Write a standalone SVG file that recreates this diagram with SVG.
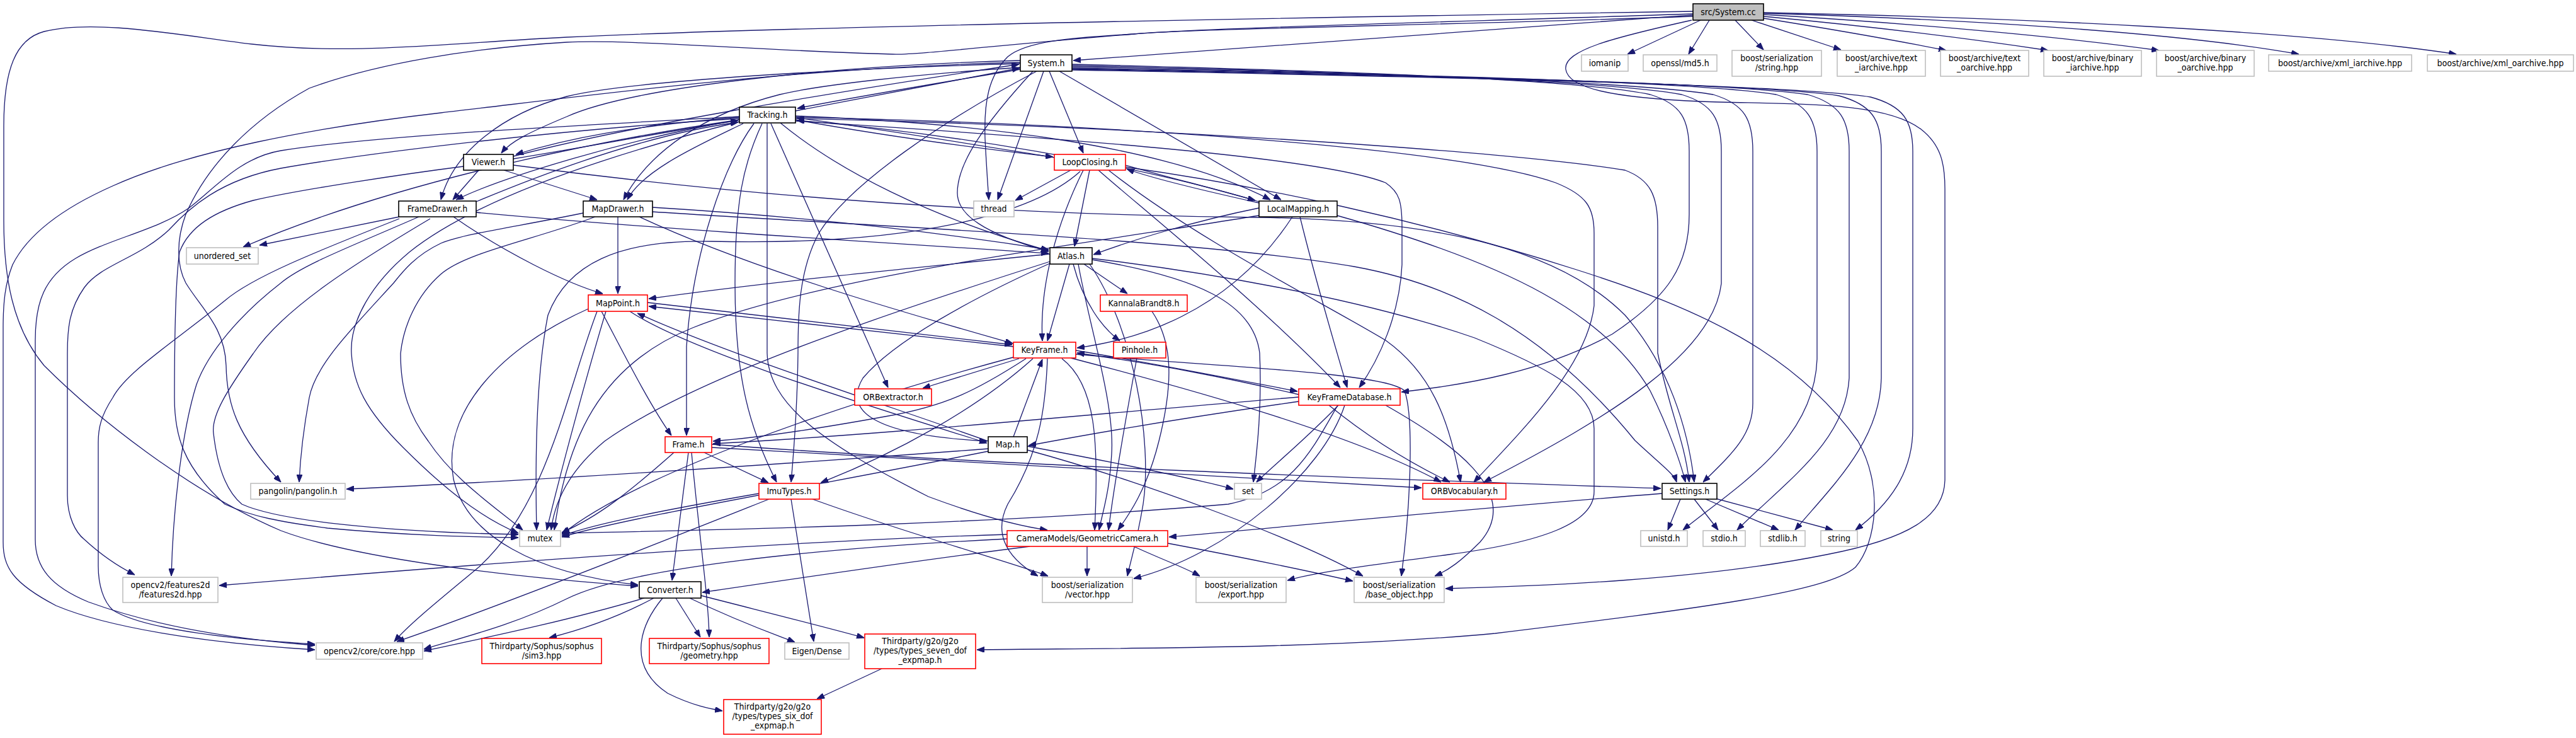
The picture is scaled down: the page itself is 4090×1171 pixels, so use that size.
<svg xmlns="http://www.w3.org/2000/svg" width="4090" height="1171" viewBox="0 0 4090 1171">
<defs>
<style>
.e{fill:none;stroke:#191970;stroke-width:1.3;marker-end:url(#ah)}
.nb rect{fill:#fff;stroke:#000;stroke-width:1.6}
.nr rect{fill:#fff;stroke:#ff0000;stroke-width:1.6}
.ng rect{fill:#fff;stroke:#bfbfbf;stroke-width:1.6}
.ns rect{fill:#bfbfbf;stroke:#000;stroke-width:1.6}
text{font-family:"DejaVu Sans Condensed","Liberation Sans",sans-serif;font-size:14px;text-anchor:middle;fill:#000}
</style>
<marker id="ah" viewBox="0 0 12 9" refX="12" refY="4.5" markerWidth="12" markerHeight="9" markerUnits="userSpaceOnUse" orient="auto"><path d="M0,0 L12,4.5 L0,9 z" fill="#191970" stroke="#191970" stroke-width="1"/></marker>
</defs>
<rect width="4090" height="1171" fill="#fff"/>
<g id="connectors">
<!-- System.cc -->
<path class="e" d="M2688,24 C2300,50 1900,80 1704,96"/>
<path class="e" d="M2688,18 C2300,24 1300,40 900,59 C700,69 560,88 400,70 C280,55 150,30 70,50 C25,62 6,110 6,200 L6,350 C6,440 20,520 70,580 C150,660 300,780 446,842 C560,885 800,915 1013,930"/>
<path class="e" d="M2688,22 C2300,35 1900,45 1800,54 C1600,70 1450,88 1417,86 C1200,80 1000,62 900,67 C750,76 600,100 491,140 C400,190 330,260 295,340 C280,380 280,420 295,449 C320,490 357,519 359,580 C360,640 375,690 446,765"/>
<path class="e" d="M2688,26 C2300,40 1900,45 1800,54 C1700,60 1630,65 1600,90 C1570,120 1562,160 1564,220 C1566,260 1568,290 1570,317"/>
<path class="e" d="M2700,32 L2584,86"/>
<path class="e" d="M2714,32 L2681,86"/>
<path class="e" d="M2755,32 L2800,79"/>
<path class="e" d="M2781,32 L2923,79"/>
<path class="e" d="M2800,29 C2900,45 3000,62 3090,80"/>
<path class="e" d="M2800,26 C2950,40 3120,60 3252,80"/>
<path class="e" d="M2800,23 C3000,35 3250,55 3428,80"/>
<path class="e" d="M2800,21 C3100,30 3450,50 3650,86"/>
<path class="e" d="M2800,20 C3200,28 3650,48 3900,86"/>
<path class="e" d="M2686,32 C2560,60 2482,80 2486,110 C2490,140 2560,155 2700,161 C2850,166 2990,160 3050,205 C3082,230 3088,260 3088,300 L3088,760 C3088,820 3030,855 2900,880 C2700,920 2450,930 2295,934"/>
<!-- System.h -->
<path class="e" d="M1620,110 C1500,130 1350,155 1266,172"/>
<path class="e" d="M1620,96 C1300,105 1000,140 900,185 C840,210 810,225 796,243"/>
<path class="e" d="M1620,101 C1350,108 1000,128 900,153 C800,180 720,240 700,317"/>
<path class="e" d="M1620,107 C1450,118 1300,135 1238,150 C1120,180 1030,240 990,317"/>
<path class="e" d="M1657,113 L1584,317"/>
<path class="e" d="M1666,113 L1720,243"/>
<path class="e" d="M1682,113 L2034,317"/>
<path class="e" d="M1640,113 C1560,200 1520,260 1520,306 C1520,340 1560,370 1665,399"/>
<path class="e" d="M1646,113 C1500,190 1350,290 1300,370 C1268,430 1267,500 1267,560 C1266,650 1260,720 1256,765"/>
<path class="e" d="M1620,99 C1250,108 950,150 700,179 C500,202 300,240 179,295 C100,330 45,370 20,420 C8,450 5,480 5,520 L5,860 C5,900 20,925 89,961 C170,995 320,1020 500,1031"/>
<path class="e" d="M1702,102 C2100,112 2500,125 2620,150 C2670,165 2682,190 2682,240 L2682,340 C2682,420 2650,470 2560,530 C2450,590 2330,610 2225,622"/>
<path class="e" d="M1702,104 C2150,114 2550,128 2670,150 C2720,165 2733,190 2733,240 L2733,450 C2720,560 2560,660 2356,765"/>
<path class="e" d="M1702,106 C2200,116 2600,130 2720,150 C2770,165 2783,190 2783,240 L2783,640 C2783,690 2750,720 2704,765"/>
<path class="e" d="M1702,108 C2250,118 2700,130 2820,150 C2870,165 2885,190 2885,240 L2885,570 C2880,700 2760,770 2672,841"/>
<path class="e" d="M1702,109 C2300,120 2750,132 2870,150 C2922,165 2936,190 2936,240 L2936,600 C2930,700 2840,760 2758,841"/>
<path class="e" d="M1702,110 C2350,122 2800,134 2920,152 C2972,166 2987,190 2987,240 L2987,600 C2985,700 2910,770 2850,841"/>
<path class="e" d="M1702,111 C2400,124 2850,136 2970,154 C3022,168 3037,192 3037,240 L3037,680 C3037,750 3000,800 2946,841"/>
<!-- Tracking.h -->
<path class="e" d="M1174,186 C1000,200 900,220 819,245"/>
<path class="e" d="M1174,190 C1000,220 800,280 724,317"/>
<path class="e" d="M1180,196 C1110,230 1020,270 996,317"/>
<path class="e" d="M1263,176 L1619,108"/>
<path class="e" d="M1263,190 C1400,215 1550,235 1672,249"/>
<path class="e" d="M1263,184 C1550,195 1850,230 2017,317"/>
<path class="e" d="M1239,195 C1330,270 1474,344 1665,398"/>
<path class="e" d="M1197,196 C1150,260 1100,400 1090,550 L1090,691"/>
<path class="e" d="M1210,196 C1180,260 1167,320 1167,450 C1167,600 1190,680 1233,765"/>
<path class="e" d="M1218,196 L1218,560 C1220,640 1300,700 1474,788 C1560,820 1620,835 1663,841"/>
<path class="e" d="M1224,196 L1410,615"/>
<path class="e" d="M1263,192 C1700,220 2100,250 2200,290 C2222,305 2226,320 2226,360 L2226,420 C2222,500 2190,570 2158,615"/>
<path class="e" d="M1263,186 C1700,195 2300,230 2470,290 C2520,310 2531,330 2531,370 L2531,485 C2520,580 2420,680 2340,765"/>
<path class="e" d="M1263,188 C1800,200 2400,240 2580,270 C2620,285 2632,310 2632,360 L2632,560 C2650,650 2675,700 2682,765"/>
<path class="e" d="M1174,185 C900,200 600,215 446,239 C380,250 340,300 300,330 C250,365 170,380 120,410 C70,440 56,480 56,540 L56,856 C56,900 80,930 140,955 C250,995 380,1015 500,1024"/>
<path class="e" d="M1174,188 C900,205 600,240 446,267 C350,285 300,330 268,365 C220,410 160,420 134,456 C110,490 107,520 107,561 L107,786 C107,820 120,845 134,856 C160,880 190,900 214,912"/>
<path class="e" d="M1174,190 C900,230 600,300 386,392"/>
<path class="e" d="M1174,193 C950,250 750,320 650,400 C590,450 555,510 558,561 C561,610 580,650 640,710 C700,770 760,820 823,846"/>
<!-- Viewer.h -->
<path class="e" d="M760,270 L719,317"/>
<path class="e" d="M800,270 L948,317"/>
<path class="e" d="M815,252 C950,230 1080,205 1172,191"/>
<path class="e" d="M815,248 C1000,200 1300,150 1618,102"/>
<path class="e" d="M815,262 C1100,300 1500,340 2000,345 C2300,350 2480,400 2580,500 C2650,580 2680,680 2690,765"/>
<path class="e" d="M736,264 C650,275 480,300 402,318 C340,335 300,360 285,400 C278,450 277,550 277,631 C277,690 290,740 357,800 C400,820 446,828 520,838 C650,850 750,852 823,853"/>
<!-- FrameDrawer.h -->
<path class="e" d="M756,320 C900,260 1050,210 1172,194"/>
<path class="e" d="M720,344 C800,400 900,450 957,466"/>
<path class="e" d="M756,337 C1000,360 1400,385 1665,402"/>
<path class="e" d="M634,347 C500,400 400,440 357,477 C280,540 200,590 179,631 C160,660 156,680 156,702 L156,898 C156,930 165,955 179,968 C230,1000 380,1015 500,1022"/>
<path class="e" d="M665,344 C560,390 480,420 446,449 C380,500 330,560 312,610 C290,680 275,800 272,914"/>
<path class="e" d="M683,347 C560,420 450,490 402,561 C360,620 335,660 339,688 C345,740 360,780 384,800 C450,830 650,845 823,848"/>
<path class="e" d="M634,344 L412,389"/>
<!-- MapDrawer.h -->
<path class="e" d="M1036,329 C1300,345 1500,370 1665,396"/>
<path class="e" d="M981,344 L981,466"/>
<path class="e" d="M1015,344 C1200,430 1450,500 1608,545"/>
<path class="e" d="M1036,336 C1400,360 1900,380 2150,423 C2300,450 2450,520 2596,699 C2640,740 2658,752 2662,765"/>
<path class="e" d="M926,338 C820,360 740,370 700,386 C660,405 640,430 625,449 C560,520 500,580 491,631 C482,680 477,720 475,765"/>
<path class="e" d="M945,344 C850,380 740,400 700,435 C660,470 640,520 636,561 C636,620 650,660 680,700 C720,760 780,800 830,841"/>
<!-- LocalMapping.h -->
<path class="e" d="M1999,322 C1900,300 1820,280 1789,268"/>
<path class="e" d="M1999,320 C1800,260 1500,210 1265,191"/>
<path class="e" d="M1999,330 C1900,350 1800,380 1736,404"/>
<path class="e" d="M2052,344 C1950,500 1800,540 1710,552"/>
<path class="e" d="M2064,344 C2090,450 2120,550 2139,615"/>
<path class="e" d="M2123,342 C2400,420 2550,500 2620,620 C2650,680 2670,740 2676,765"/>
<path class="e" d="M1999,342 C1700,390 1300,440 1100,520 C950,580 900,700 880,841"/>
<!-- LoopClosing.h -->
<path class="e" d="M1787,262 C1850,280 1930,300 1993,318"/>
<path class="e" d="M1674,250 C1550,230 1400,205 1265,187"/>
<path class="e" d="M1700,270 L1612,318"/>
<path class="e" d="M1730,270 L1706,391"/>
<path class="e" d="M1720,270 C1680,350 1650,450 1655,541"/>
<path class="e" d="M1744,270 C1800,320 2000,480 2128,615"/>
<path class="e" d="M1760,270 C1900,380 2100,480 2200,540 C2270,590 2300,660 2319,765"/>
<path class="e" d="M1715,272 C1640,340 1450,390 1130,383 C980,380 900,420 870,500 C850,600 850,750 852,841"/>
<path class="e" d="M1787,265 C2000,295 2250,347 2500,427 C2700,490 2850,560 2950,700 C2990,770 2980,860 2946,900 C2900,940 2700,965 2374,1005 C2100,1030 1800,1028 1551,1031"/>
<!-- Atlas.h -->
<path class="e" d="M1669,417 C1550,470 1420,540 1370,600 C1340,650 1380,690 1567,700"/>
<path class="e" d="M1667,403 C1400,430 1200,450 1030,474"/>
<path class="e" d="M1698,419 L1663,541"/>
<path class="e" d="M1712,419 C1730,520 1770,640 1765,720 C1762,780 1750,815 1745,841"/>
<path class="e" d="M1704,419 C1720,480 1750,520 1778,541"/>
<path class="e" d="M1721,419 L1790,466"/>
<path class="e" d="M1734,412 C1900,440 1990,480 2000,560 C2004,650 1995,720 1990,765"/>
<path class="e" d="M1667,415 C1400,500 1100,600 960,700 C900,750 880,800 875,841"/>
<path class="e" d="M1730,419 C1800,520 1830,700 1815,800 C1805,860 1795,890 1790,914"/>
<path class="e" d="M1734,410 C1900,430 2150,470 2341,536 C2450,580 2531,620 2531,680 L2531,780 C2531,830 2450,860 2300,880 C2150,900 2080,910 2044,921"/>
<!-- KeyFrame.h -->
<path class="e" d="M1609,550 L1030,486"/>
<path class="e" d="M1618,569 L1465,616"/>
<path class="e" d="M1629,569 C1550,620 1500,645 1405,661 C1300,680 1200,695 1132,700"/>
<path class="e" d="M1640,569 C1550,650 1420,720 1303,766"/>
<path class="e" d="M1686,569 C1740,610 1745,700 1738,841"/>
<path class="e" d="M1700,568 C1900,620 2150,690 2288,765"/>
<path class="e" d="M1708,556 C1850,580 1950,600 2060,621"/>
<path class="e" d="M1708,562 C1900,580 2200,590 2230,620 C2245,660 2240,800 2225,914"/>
<path class="e" d="M1663,569 C1660,650 1650,720 1600,800 C1580,840 1590,880 1648,914"/>
<path class="e" d="M1612,566 C1300,650 1000,760 892,848"/>
<!-- MapPoint.h -->
<path class="e" d="M1028,480 L1607,547"/>
<path class="e" d="M955,494 C990,560 1030,640 1066,691"/>
<path class="e" d="M1000,494 C1100,560 1400,650 1567,703"/>
<path class="e" d="M934,490 C800,550 700,650 720,760 C740,850 850,910 1013,928"/>
<path class="e" d="M948,494 C900,620 870,800 760,900 C700,950 650,990 626,1018"/>
<path class="e" d="M962,494 C930,600 890,750 868,841"/>
<!-- Map.h -->
<path class="e" d="M1569,700 C1400,640 1150,560 1012,497"/>
<path class="e" d="M1609,693 L1655,570"/>
<path class="e" d="M1631,708 C1750,730 1900,760 1958,776"/>
<path class="e" d="M1569,712 C1200,740 800,765 550,776"/>
<path class="e" d="M1569,716 C1300,770 1000,820 892,852"/>
<path class="e" d="M1631,714 C1800,760 2050,850 2164,914"/>
<!-- KeyFrameDatabase.h -->
<path class="e" d="M2062,626 C1950,600 1850,580 1710,560"/>
<path class="e" d="M2062,630 C1700,660 1400,690 1132,704"/>
<path class="e" d="M2062,637 C1900,660 1750,685 1633,707"/>
<path class="e" d="M2110,643 C2180,700 2250,740 2302,765"/>
<path class="e" d="M2125,643 C2070,700 2020,740 1995,765"/>
<path class="e" d="M2124,643 C2080,720 2050,780 1950,800 C1600,830 1200,840 892,846"/>
<path class="e" d="M2135,643 C2100,750 1950,880 1800,918"/>
<path class="e" d="M2200,643 C2300,700 2420,780 2350,860 C2320,890 2300,905 2278,914"/>
<!-- Frame.h -->
<path class="e" d="M1118,718 L1220,766"/>
<path class="e" d="M1093,718 L1067,921"/>
<path class="e" d="M1098,718 C1110,850 1125,950 1126,1011"/>
<path class="e" d="M1130,705 C1600,740 2200,760 2637,775"/>
<path class="e" d="M1130,710 C1600,740 2000,760 2257,774"/>
<path class="e" d="M1070,718 C1000,780 950,820 892,845"/>
<!-- ImuTypes.h -->
<path class="e" d="M1205,783 C1050,810 950,830 892,850"/>
<path class="e" d="M1221,792 C1100,840 800,960 630,1018"/>
<path class="e" d="M1256,792 L1292,1018"/>
<path class="e" d="M1290,792 C1450,850 1600,890 1664,914"/>
<!-- GeometricCamera.h -->
<path class="e" d="M1599,855 C1300,870 1000,900 900,950 C820,990 740,1010 673,1030"/>
<path class="e" d="M1599,848 C1200,860 700,900 348,929"/>
<path class="e" d="M1635,867 C1450,890 1250,920 1115,940"/>
<path class="e" d="M1726,867 L1726,914"/>
<path class="e" d="M1800,867 C1850,890 1880,900 1905,914"/>
<path class="e" d="M1854,862 C1950,880 2050,900 2148,922"/>
<!-- KannalaBrandt8.h / Pinhole.h -->
<path class="e" d="M1829,494 C1860,540 1865,600 1840,700 C1820,780 1790,820 1775,841"/>
<path class="e" d="M1805,568 C1790,650 1770,760 1760,841"/>
<!-- Settings.h -->
<path class="e" d="M2639,783 C2300,810 2000,840 1856,852"/>
<path class="e" d="M2668,792 L2648,841"/>
<path class="e" d="M2690,792 L2728,841"/>
<path class="e" d="M2708,792 L2824,841"/>
<path class="e" d="M2720,790 L2910,841"/>
<!-- Converter.h -->
<path class="e" d="M1023,949 C900,985 780,1010 673,1033"/>
<path class="e" d="M1038,949 C980,980 920,1000 872,1012"/>
<path class="e" d="M1073,949 L1112,1011"/>
<path class="e" d="M1095,949 C1180,990 1240,1010 1262,1019"/>
<path class="e" d="M1113,945 C1250,980 1330,1000 1372,1012"/>
<path class="e" d="M1052,949 C1010,1000 1000,1060 1060,1100 C1100,1120 1130,1125 1147,1128"/>
<path class="e" d="M1400,1061 L1297,1109"/>
</g>
<g id="n_SystemCC" class="ns"><rect x="2688" y="6" width="112" height="26"/><text x="2744" y="24">src/System.cc</text></g>
<g id="n_SystemH" class="nb"><rect x="1620" y="87" width="82" height="26"/><text x="1661" y="105">System.h</text></g>
<g id="n_iomanip" class="ng"><rect x="2511" y="87" width="74" height="26"/><text x="2548" y="105">iomanip</text></g>
<g id="n_md5" class="ng"><rect x="2609" y="87" width="117" height="26"/><text x="2667.5" y="105">openssl/md5.h</text></g>
<g id="n_bstring" class="ng"><rect x="2750" y="80" width="142" height="41"/><text x="2821" y="97">boost/serialization</text><text x="2821" y="112">/string.hpp</text></g>
<g id="n_tia" class="ng"><rect x="2917" y="80" width="140" height="41"/><text x="2987" y="97">boost/archive/text</text><text x="2987" y="112">_iarchive.hpp</text></g>
<g id="n_toa" class="ng"><rect x="3081" y="80" width="140" height="41"/><text x="3151" y="97">boost/archive/text</text><text x="3151" y="112">_oarchive.hpp</text></g>
<g id="n_bia" class="ng"><rect x="3245" y="80" width="155" height="41"/><text x="3322.5" y="97">boost/archive/binary</text><text x="3322.5" y="112">_iarchive.hpp</text></g>
<g id="n_boa" class="ng"><rect x="3424" y="80" width="155" height="41"/><text x="3501.5" y="97">boost/archive/binary</text><text x="3501.5" y="112">_oarchive.hpp</text></g>
<g id="n_xia" class="ng"><rect x="3602" y="87" width="227" height="26"/><text x="3715.5" y="105">boost/archive/xml_iarchive.hpp</text></g>
<g id="n_xoa" class="ng"><rect x="3854" y="87" width="232" height="26"/><text x="3970" y="105">boost/archive/xml_oarchive.hpp</text></g>
<g id="n_Tracking" class="nb"><rect x="1174" y="170" width="89" height="25"/><text x="1218.5" y="187">Tracking.h</text></g>
<g id="n_Viewer" class="nb"><rect x="736" y="245" width="79" height="25"/><text x="775.5" y="262">Viewer.h</text></g>
<g id="n_LoopClosing" class="nr"><rect x="1674" y="245" width="113" height="25"/><text x="1730.5" y="262">LoopClosing.h</text></g>
<g id="n_FrameDrawer" class="nb"><rect x="633" y="319" width="123" height="25"/><text x="694.5" y="336">FrameDrawer.h</text></g>
<g id="n_MapDrawer" class="nb"><rect x="926" y="319" width="110" height="25"/><text x="981" y="336">MapDrawer.h</text></g>
<g id="n_thread" class="ng"><rect x="1546" y="319" width="64" height="25"/><text x="1578" y="336">thread</text></g>
<g id="n_LocalMapping" class="nb"><rect x="1999" y="319" width="124" height="25"/><text x="2061" y="336">LocalMapping.h</text></g>
<g id="n_unordered_set" class="ng"><rect x="296" y="393" width="114" height="26"/><text x="353" y="411">unordered_set</text></g>
<g id="n_Atlas" class="nb"><rect x="1667" y="393" width="67" height="26"/><text x="1700.5" y="411">Atlas.h</text></g>
<g id="n_MapPoint" class="nr"><rect x="934" y="468" width="94" height="26"/><text x="981" y="486">MapPoint.h</text></g>
<g id="n_KannalaBrandt8" class="nr"><rect x="1747" y="468" width="138" height="26"/><text x="1816" y="486">KannalaBrandt8.h</text></g>
<g id="n_KeyFrame" class="nr"><rect x="1609" y="543" width="99" height="25"/><text x="1658.5" y="560">KeyFrame.h</text></g>
<g id="n_Pinhole" class="nr"><rect x="1768" y="543" width="83" height="25"/><text x="1809.5" y="560">Pinhole.h</text></g>
<g id="n_ORBextractor" class="nr"><rect x="1357" y="617" width="122" height="26"/><text x="1418" y="635">ORBextractor.h</text></g>
<g id="n_KeyFrameDatabase" class="nr"><rect x="2062" y="617" width="161" height="26"/><text x="2142.5" y="635">KeyFrameDatabase.h</text></g>
<g id="n_Frame" class="nr"><rect x="1056" y="693" width="74" height="25"/><text x="1093" y="710">Frame.h</text></g>
<g id="n_Map" class="nb"><rect x="1569" y="693" width="62" height="25"/><text x="1600" y="710">Map.h</text></g>
<g id="n_pangolin" class="ng"><rect x="398" y="767" width="150" height="25"/><text x="473" y="784">pangolin/pangolin.h</text></g>
<g id="n_ImuTypes" class="nr"><rect x="1205" y="767" width="96" height="25"/><text x="1253" y="784">ImuTypes.h</text></g>
<g id="n_set" class="ng"><rect x="1960" y="767" width="43" height="25"/><text x="1981.5" y="784">set</text></g>
<g id="n_ORBVocabulary" class="nr"><rect x="2259" y="767" width="132" height="25"/><text x="2325" y="784">ORBVocabulary.h</text></g>
<g id="n_Settings" class="nb"><rect x="2639" y="767" width="87" height="25"/><text x="2682.5" y="784">Settings.h</text></g>
<g id="n_mutex" class="ng"><rect x="825" y="842" width="65" height="25"/><text x="857.5" y="859">mutex</text></g>
<g id="n_GeometricCamera" class="nr"><rect x="1599" y="842" width="255" height="25"/><text x="1726.5" y="859">CameraModels/GeometricCamera.h</text></g>
<g id="n_unistd" class="ng"><rect x="2605" y="842" width="74" height="25"/><text x="2642" y="859">unistd.h</text></g>
<g id="n_stdio" class="ng"><rect x="2704" y="842" width="67" height="25"/><text x="2737.5" y="859">stdio.h</text></g>
<g id="n_stdlib" class="ng"><rect x="2795" y="842" width="71" height="25"/><text x="2830.5" y="859">stdlib.h</text></g>
<g id="n_string" class="ng"><rect x="2891" y="842" width="58" height="25"/><text x="2920" y="859">string</text></g>
<g id="n_features2d" class="ng"><rect x="195" y="916" width="151" height="40"/><text x="270.5" y="933">opencv2/features2d</text><text x="270.5" y="948">/features2d.hpp</text></g>
<g id="n_Converter" class="nb"><rect x="1015" y="923" width="98" height="26"/><text x="1064" y="941">Converter.h</text></g>
<g id="n_bvector" class="ng"><rect x="1655" y="916" width="143" height="40"/><text x="1726.5" y="933">boost/serialization</text><text x="1726.5" y="948">/vector.hpp</text></g>
<g id="n_bexport" class="ng"><rect x="1899" y="916" width="143" height="40"/><text x="1970.5" y="933">boost/serialization</text><text x="1970.5" y="948">/export.hpp</text></g>
<g id="n_bbase" class="ng"><rect x="2150" y="916" width="143" height="40"/><text x="2221.5" y="933">boost/serialization</text><text x="2221.5" y="948">/base_object.hpp</text></g>
<g id="n_core" class="ng"><rect x="502" y="1020" width="169" height="26"/><text x="586.5" y="1038">opencv2/core/core.hpp</text></g>
<g id="n_sim3" class="nr"><rect x="765" y="1013" width="190" height="40"/><text x="860" y="1030">Thirdparty/Sophus/sophus</text><text x="860" y="1045">/sim3.hpp</text></g>
<g id="n_geometry" class="nr"><rect x="1031" y="1013" width="190" height="40"/><text x="1126" y="1030">Thirdparty/Sophus/sophus</text><text x="1126" y="1045">/geometry.hpp</text></g>
<g id="n_eigen" class="ng"><rect x="1246" y="1020" width="102" height="26"/><text x="1297" y="1038">Eigen/Dense</text></g>
<g id="n_seven" class="nr"><rect x="1373" y="1006" width="176" height="55"/><text x="1461" y="1022">Thirdparty/g2o/g2o</text><text x="1461" y="1037">/types/types_seven_dof</text><text x="1461" y="1052">_expmap.h</text></g>
<g id="n_six" class="nr"><rect x="1149" y="1110" width="155" height="55"/><text x="1226.5" y="1126">Thirdparty/g2o/g2o</text><text x="1226.5" y="1141">/types/types_six_dof</text><text x="1226.5" y="1156">_expmap.h</text></g>
</svg>
